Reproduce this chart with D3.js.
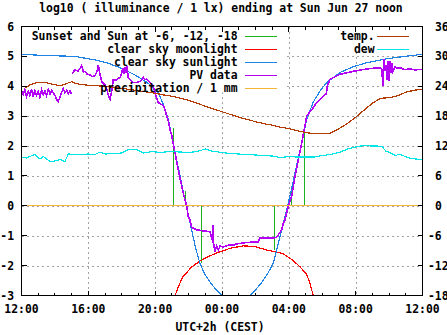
<!DOCTYPE html>
<html>
<head>
<meta charset="utf-8">
<script src="https://cdn.jsdelivr.net/npm/d3@7"></script>
<style>
  body { margin: 0; background: #fff; }
  svg { display: block; }
  text { font-family: "DejaVu Sans Mono", "Liberation Mono", monospace; font-weight: bold; font-size: 11.4px; fill: #000; }
</style>
</head>
<body>
<svg id="chart" width="447" height="335"></svg>
<script>
// hours after 12:00 on the x axis
const hourTickLabels = ['12:00', '16:00', '20:00', '00:00', '04:00', '08:00', '12:00'];
const leftTicks = [-3, -2, -1, 0, 1, 2, 3, 4, 5, 6];
const rightTicks = [-18, -12, -6, 0, 6, 12, 18, 24, 30, 36];

// [hour, log10 lux]
const sunData = [[0, 5.07], [1, 5.04], [2, 5.02], [3.2, 5.0], [4.4, 4.88], [5.19, 4.77], [6.0, 4.6],
  [6.79, 4.38], [7.59, 4.1], [8.19, 3.78], [8.49, 3.39], [8.79, 2.89], [9.13, 1.95], [9.49, 1.0],
  [9.84, 0.05], [10.2, -0.85], [10.44, -1.45], [10.68, -1.92], [10.98, -2.3], [11.28, -2.55],
  [11.64, -2.8], [12.0, -3.0], [12.8, null], [13.68, -3.0], [14.03, -2.8], [14.39, -2.55],
  [14.75, -2.25], [15.07, -1.92], [15.35, -1.3], [15.67, -0.58], [16.07, 0.33], [16.43, 1.25],
  [16.79, 2.17], [17.07, 2.89], [17.45, 3.46], [17.87, 3.85], [18.26, 4.12], [19.06, 4.46],
  [19.84, 4.65], [20.66, 4.79], [21.86, 4.92], [22.95, 5.0], [24, 5.07]];

const moonData = [[9.19, -3.0], [9.45, -2.62], [9.66, -2.38], [10.19, -2.04], [10.68, -1.85],
  [11.16, -1.7], [11.68, -1.58], [12.48, -1.42], [13.27, -1.34], [13.97, -1.36], [14.67, -1.48],
  [15.17, -1.53], [15.65, -1.6], [16.19, -1.8], [16.67, -2.04], [17.07, -2.3], [17.26, -2.58],
  [17.46, -3.0]];

const pvAfternoon = [[0.0, 3.85], [0.1, 3.72], [0.2, 3.88], [0.3, 3.66], [0.4, 3.84], [0.5, 3.7],
  [0.6, 3.9], [0.7, 3.65], [0.8, 3.86], [0.9, 3.7], [1.0, 3.82], [1.1, 3.64], [1.2, 3.88],
  [1.3, 3.72], [1.4, 3.85], [1.5, 3.68], [1.6, 3.9], [1.7, 3.74], [1.8, 3.86], [1.9, 3.78],
  [2.0, 3.7], [2.1, 3.55], [2.2, 3.5], [2.3, 3.62], [2.4, 3.8], [2.5, 3.92], [2.6, 3.78],
  [2.7, 3.86], [2.8, 3.76], [2.9, 3.84], [3.0, 3.74]];

const pvData = [[3.02, 4.42], [3.2, 4.55], [3.38, 4.5], [3.5, 4.6], [3.6, 4.7], [3.7, 4.48],
  [3.8, 4.5], [3.9, 4.42], [4.1, 4.38], [4.22, 4.32], [4.4, 4.36], [4.52, 4.5], [4.6, 4.7],
  [4.7, 4.4], [4.8, 4.15], [5.0, 4.04], [5.1, 3.92], [5.2, 3.7], [5.3, 3.56], [5.4, 3.84],
  [5.49, 4.22], [5.7, 4.22], [5.9, 4.3], [6.0, 4.45], [6.07, 4.62], [6.13, 4.42], [6.19, 4.65],
  [6.25, 4.45], [6.31, 4.68], [6.39, 4.3], [6.49, 4.22], [6.67, 4.12], [6.89, 4.12], [7.09, 4.17],
  [7.19, 4.2], [7.29, 4.3], [7.39, 4.22], [7.49, 4.25], [7.69, 4.12], [7.89, 4.0], [8.09, 3.6],
  [8.19, 3.45], [8.29, 3.42], [8.49, 3.35], [8.59, 3.22], [8.69, 3.0], [8.79, 2.85], [8.89, 2.55],
  [8.99, 2.35], [9.19, 1.77], [9.38, 1.21], [9.59, 0.65], [9.68, 0.43], [9.89, -0.02], [9.98, -0.36],
  [10.08, -0.47], [10.18, -0.7], [10.28, -0.75], [10.48, -0.8], [10.68, -0.82], [10.88, -0.84],
  [11.08, -0.85], [11.28, -0.86], [11.38, -1.08], [11.47, -1.25], [11.48, -0.64], [11.49, -1.25],
  [11.58, -1.53], [11.68, -1.34], [11.78, -1.48], [11.88, -1.35], [12.06, -1.38], [12.28, -1.33],
  [12.48, -1.3], [12.66, -1.32], [12.88, -1.27], [13.08, -1.26], [13.26, -1.24], [13.48, -1.23],
  [13.68, -1.22], [13.86, -1.22], [14.08, -1.2], [14.16, -1.2], [14.27, -1.08], [14.57, -1.08],
  [14.87, -1.08], [15.07, -1.08], [15.23, -1.05], [15.37, -0.97], [15.57, -0.8], [15.67, -0.58],
  [15.77, -0.47], [15.97, -0.02], [16.17, 0.31], [16.37, 0.98], [16.57, 1.54], [16.77, 2.1],
  [16.96, 2.66], [17.07, 3.0], [17.26, 3.15], [17.46, 3.28], [17.66, 3.45], [17.86, 3.56],
  [18.16, 3.72], [18.26, 3.75], [18.28, 3.98], [18.46, 4.23], [18.76, 4.32], [19.06, 4.4],
  [19.46, 4.45], [19.86, 4.5], [20.26, 4.54], [20.66, 4.58], [21.04, 4.6], [21.46, 4.62],
  [21.57, 4.55], [21.63, 4.0], [21.69, 4.9], [21.75, 4.5], [21.81, 4.72], [21.87, 4.2], [21.93, 4.85],
  [21.99, 4.17], [22.05, 4.84], [22.11, 4.45], [22.17, 4.78], [22.23, 4.5], [22.35, 4.66],
  [22.45, 4.6], [22.65, 4.62], [22.95, 4.56], [23.25, 4.58], [23.55, 4.55], [23.85, 4.56], [24, 4.56]];

// sunset and sun at -6, -12, -18 (impulses from 0)
const sunEvents = [[9.05, 2.6], [9.81, 0.5], [10.77, -1.92], [15.1, -1.48], [16.1, 0.48], [16.9, 2.45]];

const precipData = [[0, 0], [24, 0]];

// [hour, deg C] on the right axis
const tempData = [[0, 24.0], [0.3, 23.8], [0.5, 24.3], [0.9, 24.7], [1.5, 24.7], [2.3, 24.1],
  [3.0, 24.9], [3.3, 24.5], [4.0, 24.2], [5.0, 24.0], [6.0, 23.6], [7.0, 23.1], [8.0, 22.6],
  [8.6, 22.2], [9.0, 22.0], [10.0, 21.2], [11.0, 20.0], [12.0, 18.9], [13.0, 17.8], [14.0, 16.9],
  [14.5, 16.5], [15.0, 16.2], [15.5, 15.8], [16.0, 15.5], [16.5, 15.1], [17.0, 14.7], [17.5, 14.5],
  [18.0, 14.5], [18.5, 14.6], [19.0, 15.5], [19.5, 16.5], [20.0, 17.8], [20.5, 19.2], [21.0, 20.6],
  [21.5, 21.6], [22.0, 21.7], [22.5, 22.1], [23.0, 22.8], [23.5, 23.2], [24, 23.4]];

const dewData = [[0, 9.8], [0.3, 9.6], [0.5, 9.9], [0.8, 10.3], [1.1, 9.4], [1.3, 9.9], [1.7, 8.9],
  [2.0, 9.0], [2.3, 9.3], [2.6, 8.9], [2.8, 10.4], [3.5, 10.3], [4.0, 10.4], [4.4, 10.3], [4.7, 10.8],
  [5.0, 10.4], [5.5, 10.5], [6.0, 10.6], [6.4, 11.3], [6.9, 11.3], [7.3, 10.6], [7.8, 10.9],
  [8.3, 10.7], [8.9, 10.9], [9.5, 10.8], [10.0, 10.7], [10.5, 10.9], [11.0, 11.4], [11.4, 11.0],
  [12.0, 10.7], [12.5, 10.5], [13.0, 10.4], [13.5, 10.3], [14.0, 10.2], [15.0, 10.0], [15.5, 9.7],
  [16.0, 9.9], [16.5, 9.8], [17.0, 9.8], [17.5, 9.8], [18.0, 10.1], [18.5, 10.3], [19.0, 10.7],
  [19.3, 11.1], [19.6, 11.5], [20.0, 11.8], [20.3, 12.0], [20.6, 12.1], [21.0, 12.0], [21.3, 12.0],
  [21.6, 11.8], [21.8, 11.0], [22.1, 10.6], [22.4, 10.1], [22.6, 10.4], [22.9, 10.0], [23.3, 9.5],
  [23.6, 9.4], [24, 9.2]];

const plotLeft = 21.5, plotRight = 422.5, plotTop = 26.5, plotBottom = 295.5;

const svg = d3.select('#chart');
const x = d3.scaleLinear().domain([0, 24]).range([plotLeft, plotRight]);
const y = d3.scaleLinear().domain([-3, 6]).range([plotBottom, plotTop]);
const y2 = d3.scaleLinear().domain([-18, 36]).range([plotBottom, plotTop]);

const defs = svg.append('defs');
defs.append('clipPath').attr('id', 'plotclip')
  .append('rect').attr('x', plotLeft).attr('y', plotTop)
  .attr('width', plotRight - plotLeft).attr('height', plotBottom - plotTop);

// grid is hidden behind the key boxes
const mask = defs.append('mask').attr('id', 'keymask');
mask.append('rect').attr('x', 0).attr('y', 0).attr('width', 447).attr('height', 335).attr('fill', '#fff');
mask.append('rect').attr('x', plotLeft).attr('y', plotTop).attr('width', 265).attr('height', 66).attr('fill', '#000');
mask.append('rect').attr('x', 330).attr('y', plotTop).attr('width', plotRight - 330).attr('height', 26).attr('fill', '#000');

const grid = svg.append('g').attr('mask', 'url(#keymask)')
  .attr('stroke', '#a0a0a0').attr('stroke-dasharray', '2,3').attr('shape-rendering', 'crispEdges');
grid.selectAll('line.h').data(leftTicks.filter(d => d > -3 && d < 6))
  .enter().append('line')
  .attr('x1', plotLeft).attr('x2', plotRight)
  .attr('y1', d => Math.round(y(d)) + 0.5).attr('y2', d => Math.round(y(d)) + 0.5);
grid.selectAll('line.v').data([4, 8, 12, 16, 20])
  .enter().append('line')
  .attr('y1', plotTop).attr('y2', plotBottom)
  .attr('x1', d => Math.round(x(d)) + 0.5).attr('x2', d => Math.round(x(d)) + 0.5);

const plot = svg.append('g').attr('clip-path', 'url(#plotclip)')
  .attr('fill', 'none').attr('shape-rendering', 'crispEdges');

const line = d3.line()
  .defined(d => d[1] !== null)
  .x(d => x(d[0]))
  .y(d => y(d[1]));
const line2 = d3.line()
  .x(d => x(d[0]))
  .y(d => y2(d[1]));

// Add series in gnuplot order
plot.selectAll('line.ev').data(sunEvents).enter().append('line')
  .attr('x1', d => Math.round(x(d[0])) + 0.5).attr('x2', d => Math.round(x(d[0])) + 0.5)
  .attr('y1', y(0)).attr('y2', d => y(d[1]))
  .attr('stroke', '#1cb31c').attr('stroke-width', 1.3);
plot.append('path').attr('d', line(moonData)).attr('stroke', '#ff0000').attr('stroke-width', 1.2);
plot.append('path').attr('d', line(sunData)).attr('stroke', '#1e82e6').attr('stroke-width', 1.2);
plot.append('path').attr('d', line(pvAfternoon)).attr('stroke', '#b400f5').attr('stroke-width', 1.6);
plot.append('path').attr('d', line(pvData)).attr('stroke', '#b400f5').attr('stroke-width', 1.6);
plot.append('path').attr('d', line(precipData)).attr('stroke', '#f5b83a').attr('stroke-width', 1.3);
plot.append('path').attr('d', line2(tempData)).attr('stroke', '#b43c00').attr('stroke-width', 1.2);
plot.append('path').attr('d', line2(dewData)).attr('stroke', '#00e6e6').attr('stroke-width', 1.2);

// border and ticks
const axes = svg.append('g').attr('stroke', '#000').attr('shape-rendering', 'crispEdges');
axes.append('rect').attr('x', plotLeft).attr('y', plotTop)
  .attr('width', plotRight - plotLeft).attr('height', plotBottom - plotTop)
  .attr('fill', 'none');
const hours = d3.range(0, 25);
axes.selectAll('line.bt').data(hours).enter().append('line')
  .attr('x1', d => x(d)).attr('x2', d => x(d))
  .attr('y1', plotBottom).attr('y2', d => plotBottom - (d % 4 === 0 ? 5 : 3));
axes.selectAll('line.tt').data(hours).enter().append('line')
  .attr('x1', d => x(d)).attr('x2', d => x(d))
  .attr('y1', plotTop).attr('y2', d => plotTop + (d % 4 === 0 ? 5 : 3));
axes.selectAll('line.lt').data(leftTicks).enter().append('line')
  .attr('x1', plotLeft).attr('x2', plotLeft + 5)
  .attr('y1', d => y(d)).attr('y2', d => y(d));
axes.selectAll('line.rt').data(rightTicks).enter().append('line')
  .attr('x1', plotRight).attr('x2', plotRight - 5)
  .attr('y1', d => y2(d)).attr('y2', d => y2(d));

// tick labels
svg.selectAll('text.yl').data(leftTicks).enter().append('text')
  .attr('x', 14).attr('y', d => y(d) + 4)
  .attr('text-anchor', 'end')
  .text(d => d);
svg.selectAll('text.yr').data(rightTicks).enter().append('text')
  .attr('x', d => d < 0 ? 428 : 435).attr('y', d => y2(d) + 4)
  .text(d => d);
svg.selectAll('text.xl').data(hourTickLabels).enter().append('text')
  .attr('x', (d, i) => x(i * 4)).attr('y', 313)
  .attr('text-anchor', 'middle')
  .text(d => d);

svg.append('text').attr('x', 221).attr('y', 12).attr('text-anchor', 'middle')
  .text('log10 ( illuminance / 1 lx) ending at Sun Jun 27 noon');
svg.append('text').attr('x', 220).attr('y', 331).attr('text-anchor', 'middle')
  .text('UTC+2h (CEST)');

// key
const keyLeft = [
  ['Sunset and Sun at -6, -12, -18', '#1cb31c'],
  ['clear sky moonlight', '#ff0000'],
  ['clear sky sunlight', '#1e82e6'],
  ['PV data', '#b400f5'],
  ['precipitation / 1 mm', '#f5b83a']
];
const keyRight = [
  ['temp.', '#b43c00'],
  ['dew', '#00e6e6']
];
function drawKey(items, textX, x1, x2) {
  const g = svg.append('g');
  items.forEach((it, i) => {
    const yy = 35.5 + i * 13.2;
    g.append('text').attr('x', textX).attr('y', yy + 4).attr('text-anchor', 'end').text(it[0]);
    g.append('line').attr('x1', x1).attr('x2', x2)
      .attr('y1', Math.round(yy) + 0.5).attr('y2', Math.round(yy) + 0.5)
      .attr('stroke', it[1]).attr('stroke-width', 1.3).attr('shape-rendering', 'crispEdges');
  });
}
drawKey(keyLeft, 237.5, 245, 277);
drawKey(keyRight, 374.5, 377, 409);
</script>
</body>
</html>
